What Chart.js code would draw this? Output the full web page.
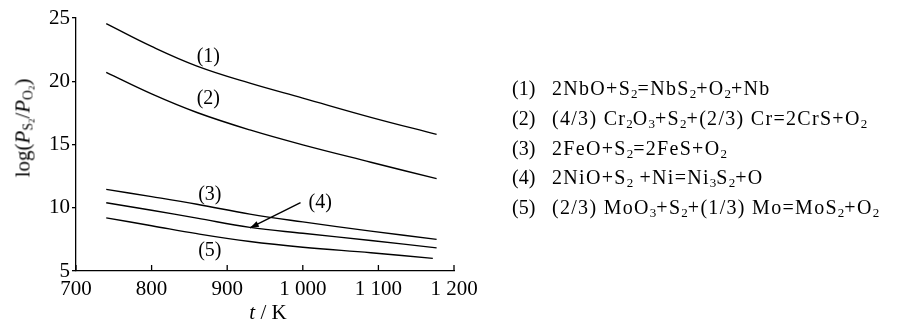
<!DOCTYPE html>
<html>
<head>
<meta charset="utf-8">
<script src="https://cdn.jsdelivr.net/npm/chart.js@4.4.0/dist/chart.umd.min.js"></script>
<style>
  body { margin: 0; background: #fff; }
  #wrap { position: relative; width: 897px; height: 322px; font-family: "Liberation Serif", "Times New Roman", serif; color: #000; }
  #chart { position: absolute; left: 0; top: 0; }
  .ytitle { position: absolute; left: 23px; top: 128px; transform: translate(-50%, -50%) rotate(-90deg); font-size: 21px; white-space: nowrap; }
  .xtitle { position: absolute; left: 268px; top: 312px; transform: translate(-50%, -50%); font-size: 21px; white-space: nowrap; }
  .legend { position: absolute; left: 512px; top: 74px; font-size: 20px; line-height: 29.8px; white-space: nowrap; }
  .legend .n { display: inline-block; width: 40px; }
  .legend .eq { letter-spacing: 1.3px; }
  sub { font-size: 65%; vertical-align: -0.25em; line-height: 0; letter-spacing: 0; }
</style>
</head>
<body>
<div id="wrap">
  <canvas id="chart" width="897" height="322"></canvas>
  <div class="ytitle">log(<i>P</i><sub>S<sub>2</sub></sub>/<i>P</i><sub>O<sub>2</sub></sub>)</div>
  <div class="xtitle"><i>t</i> / K</div>
  <div class="legend">
    <div><span class="n">(1)</span><span class="eq">2NbO+S<sub>2</sub>=NbS<sub>2</sub>+O<sub>2</sub>+Nb</span></div>
    <div><span class="n">(2)</span><span class="eq">(4/3) Cr<sub>2</sub>O<sub>3</sub>+S<sub>2</sub>+(2/3) Cr=2CrS+O<sub>2</sub></span></div>
    <div><span class="n">(3)</span><span class="eq">2FeO+S<sub>2</sub>=2FeS+O<sub>2</sub></span></div>
    <div><span class="n">(4)</span><span class="eq">2NiO+S<sub>2</sub> +Ni=Ni<sub>3</sub>S<sub>2</sub>+O</span></div>
    <div><span class="n">(5)</span><span class="eq">(2/3) MoO<sub>3</sub>+S<sub>2</sub>+(1/3) Mo=MoS<sub>2</sub>+O<sub>2</sub></span></div>
  </div>
</div>
<script>
// Values (temperature in K, log(Ps2/Po2))
const tempsK = [740, 800, 860, 930, 1000, 1090, 1177];
const tempsK5 = [740, 800, 860, 930, 1000, 1090, 1172];
const curve1 = [24.55, 22.75, 21.2, 19.85, 18.67, 17.15, 15.8];
const curve2 = [20.7, 19.0, 17.53, 16.15, 14.97, 13.6, 12.3];
const curve3 = [11.45, 10.88, 10.28, 9.5, 8.88, 8.15, 7.5];
const curve4 = [10.4, 9.8, 9.18, 8.45, 7.98, 7.41, 6.83];
const curve5 = [9.2, 8.58, 7.95, 7.33, 6.88, 6.44, 6.0];

// curve tags placed on the plot
const tagText = ['(1)', '(2)', '(3)', '(4)', '(5)'];
const tagT = [875, 875, 877, 1023, 877];
const tagV = [21.96, 18.59, 11.05, 10.4, 6.64];
// arrow for tag (4): from [T, v] to [T, v]
const arrowFrom = [997, 10.4];
const arrowTo = [930, 8.4];

const xMin = 700, xMax = 1200, xStep = 100;
const yMin = 5, yMax = 25, yStep = 5;

Chart.defaults.font.family = '"Liberation Serif", "Times New Roman", serif';
Chart.defaults.color = '#000';

function toPoints(xs, ys) {
  return xs.map((t, i) => ({ x: t, y: ys[i] }));
}

function fmtK(v) {
  if (v >= 1000) return '1 ' + String(v - 1000).padStart(3, '0');
  return String(v);
}

// inward x ticks, tags and the arrow
const extras = {
  id: 'extras',
  afterDraw(chart) {
    const { ctx, scales: { x, y }, chartArea } = chart;
    ctx.save();
    ctx.strokeStyle = '#000';
    ctx.fillStyle = '#000';
    ctx.lineWidth = 1.3;
    x.ticks.forEach((t, i) => {
      const px = x.getPixelForTick(i);
      ctx.beginPath();
      ctx.moveTo(px, chartArea.bottom);
      ctx.lineTo(px, chartArea.bottom - 6);
      ctx.stroke();
    });

    ctx.font = '20px "Liberation Serif", serif';
    ctx.textAlign = 'center';
    ctx.textBaseline = 'middle';
    tagText.forEach((s, i) => {
      ctx.fillText(s, x.getPixelForValue(tagT[i]), y.getPixelForValue(tagV[i]));
    });

    const x0 = x.getPixelForValue(arrowFrom[0]), y0 = y.getPixelForValue(arrowFrom[1]);
    const x1 = x.getPixelForValue(arrowTo[0]), y1 = y.getPixelForValue(arrowTo[1]);
    ctx.lineWidth = 1.4;
    ctx.beginPath();
    ctx.moveTo(x0, y0);
    ctx.lineTo(x1, y1);
    ctx.stroke();
    const a = Math.atan2(y1 - y0, x1 - x0);
    const len = 9, half = 3;
    ctx.beginPath();
    ctx.moveTo(x1, y1);
    ctx.lineTo(x1 - len * Math.cos(a) + half * Math.sin(a), y1 - len * Math.sin(a) - half * Math.cos(a));
    ctx.lineTo(x1 - len * Math.cos(a) - half * Math.sin(a), y1 - len * Math.sin(a) + half * Math.cos(a));
    ctx.closePath();
    ctx.fill();
    ctx.restore();
  }
};

const lineStyle = {
  borderColor: '#000',
  borderWidth: 1.4,
  pointRadius: 0,
  fill: false,
  tension: 0.4
};

new Chart(document.getElementById('chart'), {
  type: 'line',
  data: {
    datasets: [
      { ...lineStyle, data: toPoints(tempsK, curve1) },
      { ...lineStyle, data: toPoints(tempsK, curve2) },
      { ...lineStyle, data: toPoints(tempsK, curve3) },
      { ...lineStyle, data: toPoints(tempsK, curve4) },
      { ...lineStyle, data: toPoints(tempsK5, curve5) }
    ]
  },
  options: {
    responsive: false,
    animation: false,
    layout: { padding: { left: 0, top: 18, right: 443, bottom: 0 } },
    plugins: { legend: { display: false }, tooltip: { enabled: false } },
    scales: {
      x: {
        type: 'linear',
        min: xMin, max: xMax,
        afterFit: s => { s.height = 51; },
        ticks: { stepSize: xStep, padding: 6, maxRotation: 0, font: { size: 21 }, callback: v => fmtK(v) },
        grid: { drawOnChartArea: false, drawTicks: false },
        border: { display: true, color: '#000', width: 1.3 }
      },
      y: {
        min: yMin, max: yMax,
        afterFit: s => { s.width = 76; },
        ticks: { stepSize: yStep, padding: 2, font: { size: 21 } },
        grid: { drawOnChartArea: false, drawTicks: true, tickLength: 4, color: '#000', lineWidth: 1.3 },
        border: { display: true, color: '#000', width: 1.3 }
      }
    }
  },
  plugins: [extras]
});
</script>
</body>
</html>
